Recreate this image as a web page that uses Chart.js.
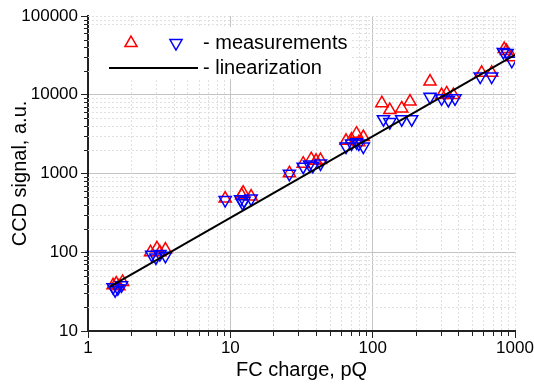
<!DOCTYPE html>
<html>
<head>
<meta charset="utf-8">
<script src="https://cdn.jsdelivr.net/npm/chart.js@4.4.1/dist/chart.umd.min.js"></script>
<style>
  html, body { margin: 0; padding: 0; background: #fff; }
</style>
</head>
<body>
<canvas id="chart" width="534" height="384"></canvas>
<script>
// valores (log-log)
const xTicks = [1, 10, 100, 1000];
const yTicks = [10, 100, 1000, 10000, 100000];

// triângulos vermelhos (medições)
const redX = [1.5, 1.58, 1.65, 1.75, 2.75, 3.05, 3.2, 3.5, 9.2, 12.0, 12.3, 14.0,
              26, 32.5, 37, 40, 43, 65, 71, 77, 80, 86, 116, 132, 160, 183,
              253, 305, 331, 369, 583, 686, 840, 870, 950];
const redY = [38, 40, 37, 42, 100, 112, 100, 108, 480, 530, 570, 510,
              1010, 1330, 1520, 1450, 1480, 2600, 2700, 3200, 2500, 2900, 7800, 6400, 6700, 8200,
              14700, 9900, 10400, 9900, 19000, 19000, 38000, 36000, 30000];

// triângulos azuis invertidos (medições)
const blueX = [1.5, 1.55, 1.62, 1.72, 2.8, 3.0, 3.2, 3.5, 9.2, 11.8, 12.2, 12.5, 14.0,
               26, 32.5, 36, 38, 43, 65, 71, 77, 80, 86, 119, 132, 160, 188,
               253, 305, 340, 379, 570, 686, 828, 880, 950];
const blueY = [36, 33, 35, 38, 93, 86, 95, 90, 460, 470, 420, 450, 480,
               990, 1220, 1300, 1250, 1340, 2200, 2400, 2500, 2400, 2200, 4900, 4500, 4900, 4900,
               9400, 9000, 8600, 9000, 17000, 17000, 35000, 34000, 27000];

// reta de linearização
const fitX = [1.43, 1000];
const fitY = [36.5, 32000];

const FONT = "Arial, 'Liberation Sans', sans-serif";
Chart.defaults.font.family = FONT;
Chart.defaults.color = '#000';

const pts = (xs, ys) => xs.map((x, i) => ({ x: x, y: ys[i] }));
const isMajor = v => Math.abs(Math.log10(v) - Math.round(Math.log10(v))) < 1e-9;
const withMinor = majors => {
    const out = [];
    for (let i = 0; i < majors.length - 1; i++) {
        for (let k = 1; k < 10; k++) out.push(majors[i] * k);
    }
    out.push(majors[majors.length - 1]);
    return out;
};

// grade secundária tracejada + marcas curtas
const minorGrid = {
    id: 'minorGrid',
    beforeDatasetsDraw(chart) {
        const { ctx, chartArea: a, scales: { x, y } } = chart;
        ctx.save();
        ctx.lineWidth = 1;
        x.ticks.forEach(t => {
            if (t.value === x.min) return;
            const px = Math.round(x.getPixelForValue(t.value)) + 0.5;
            if (!isMajor(t.value) || t.value === x.max) {
                ctx.strokeStyle = '#e0e0e0';
                ctx.setLineDash([2, 2]);
                ctx.beginPath(); ctx.moveTo(px, a.top); ctx.lineTo(px, a.bottom); ctx.stroke();
            }
            if (!isMajor(t.value)) {
                ctx.strokeStyle = '#222';
                ctx.setLineDash([]);
                ctx.beginPath(); ctx.moveTo(px, a.bottom); ctx.lineTo(px, a.bottom + 5); ctx.stroke();
            }
        });
        y.ticks.forEach(t => {
            if (t.value === y.min) return;
            const py = Math.round(y.getPixelForValue(t.value)) + 0.5;
            if (!isMajor(t.value) || t.value === y.max) {
                ctx.strokeStyle = '#e0e0e0';
                ctx.setLineDash([2, 2]);
                ctx.beginPath(); ctx.moveTo(a.left, py); ctx.lineTo(a.right, py); ctx.stroke();
            }
            if (!isMajor(t.value)) {
                ctx.strokeStyle = '#222';
                ctx.setLineDash([]);
                ctx.beginPath(); ctx.moveTo(a.left - 4, py); ctx.lineTo(a.left, py); ctx.stroke();
            }
        });
        ctx.restore();
    }
};

function triangle(ctx, cx, cy, r, down) {
    const s = down ? -1 : 1;
    ctx.beginPath();
    for (let i = 0; i < 3; i++) {
        const ang = i * 2 * Math.PI / 3;
        const px = cx + Math.sin(ang) * r * s;
        const py = cy - Math.cos(ang) * r * s;
        if (i === 0) ctx.moveTo(px, py); else ctx.lineTo(px, py);
    }
    ctx.closePath();
    ctx.stroke();
}

// legenda no canto superior esquerdo
const legendBox = {
    id: 'legendBox',
    afterDatasetsDraw(chart) {
        const { ctx, chartArea: a } = chart;
        ctx.save();
        ctx.fillStyle = '#fff';
        ctx.fillRect(a.left + 2, a.top + 11, 262, 52);
        ctx.lineWidth = 1.5;
        ctx.strokeStyle = '#ff0000';
        triangle(ctx, a.left + 43, a.top + 27, 7, false);
        ctx.strokeStyle = '#0000ff';
        triangle(ctx, a.left + 88, a.top + 27, 7, true);
        ctx.strokeStyle = '#000';
        ctx.lineWidth = 2;
        ctx.beginPath(); ctx.moveTo(a.left + 21, a.top + 52); ctx.lineTo(a.left + 110, a.top + 52); ctx.stroke();
        ctx.fillStyle = '#000';
        ctx.font = '20px ' + FONT;
        ctx.textBaseline = 'middle';
        ctx.fillText('- measurements', a.left + 115, a.top + 27);
        ctx.fillText('- linearization', a.left + 115, a.top + 52);
        ctx.restore();
    }
};

const gridColor = c => (isMajor(c.tick.value) && c.tick.value !== c.scale.min && c.tick.value !== c.scale.max) ? '#c4c4c4' : 'rgba(0,0,0,0)';
const tickColor = c => isMajor(c.tick.value) ? '#222' : 'rgba(0,0,0,0)';

new Chart(document.getElementById('chart'), {
    type: 'scatter',
    data: {
        datasets: [
            {
                label: 'linearization',
                data: pts(fitX, fitY),
                showLine: true,
                borderColor: '#000',
                borderWidth: 2,
                pointRadius: 0,
                fill: false
            },
            {
                label: 'measurements',
                data: pts(blueX, blueY),
                pointStyle: 'triangle',
                rotation: 180,
                pointRadius: 7,
                borderWidth: 1.5,
                borderColor: '#0000ff',
                backgroundColor: 'rgba(0,0,0,0)'
            },
            {
                label: 'measurements',
                data: pts(redX, redY),
                pointStyle: 'triangle',
                pointRadius: 7,
                borderWidth: 1.5,
                borderColor: '#ff0000',
                backgroundColor: 'rgba(0,0,0,0)'
            }
        ]
    },
    options: {
        responsive: false,
        animation: false,
        layout: { padding: { top: 16, right: 19, left: 0, bottom: 0 } },
        plugins: { legend: { display: false }, tooltip: { enabled: false } },
        scales: {
            x: {
                type: 'logarithmic',
                min: xTicks[0],
                max: xTicks[xTicks.length - 1],
                afterBuildTicks: s => { s.ticks = withMinor(xTicks).map(v => ({ value: v })); },
                afterFit: s => { s.height = 53; },
                border: { color: '#222', width: 2 },
                grid: { color: gridColor, tickColor: tickColor, tickLength: 7, tickWidth: 1 },
                ticks: {
                    autoSkip: false, maxRotation: 0, padding: 0,
                    font: { size: 17 },
                    callback: v => isMajor(v) ? String(v) : ''
                },
                title: { display: true, text: 'FC charge, pQ', font: { size: 20 }, padding: { top: 0, bottom: 2 } }
            },
            y: {
                type: 'logarithmic',
                min: yTicks[0],
                max: yTicks[yTicks.length - 1],
                afterBuildTicks: s => { s.ticks = withMinor(yTicks).map(v => ({ value: v })); },
                afterFit: s => { s.width = 88; },
                border: { color: '#222', width: 2 },
                grid: { color: gridColor, tickColor: tickColor, tickLength: 7, tickWidth: 1 },
                ticks: {
                    autoSkip: false, padding: 3,
                    font: { size: 17 },
                    callback: v => isMajor(v) ? String(v) : ''
                },
                title: { display: true, text: 'CCD signal, a.u.', font: { size: 20 }, padding: { top: 8, bottom: 0 } }
            }
        }
    },
    plugins: [minorGrid, legendBox]
});
</script>
</body>
</html>
